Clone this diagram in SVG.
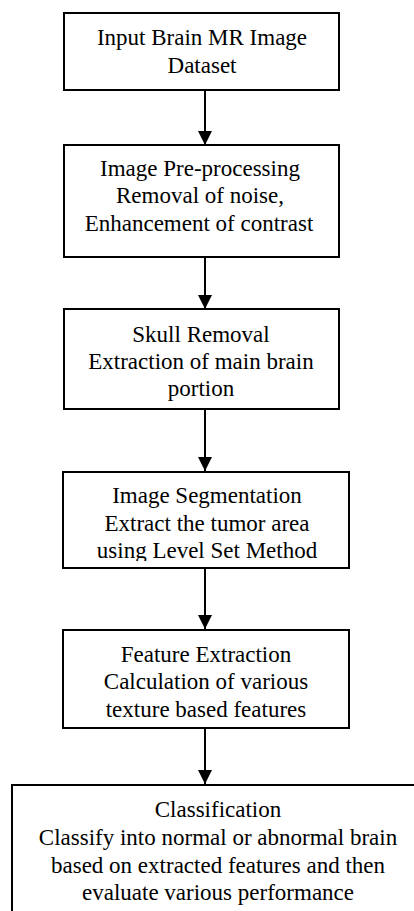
<svg xmlns="http://www.w3.org/2000/svg" width="414" height="911" viewBox="0 0 414 911">
<style>
.box{fill:#fff;stroke:#000;stroke-width:2}
.t{font-family:"Liberation Serif","Times New Roman",serif;font-size:23px;fill:#000;text-anchor:middle}
.c{stroke:#000;stroke-width:2;fill:none}
</style>
<defs>
<marker id="ah" markerWidth="14" markerHeight="15" refX="14" refY="7" orient="auto" markerUnits="userSpaceOnUse">
<path d="M0,0 L14,7 L0,14 Z" fill="#000"/>
</marker>
<clipPath id="clip4"><rect x="60" y="470" width="300" height="91"/></clipPath>
</defs>
<rect width="414" height="911" fill="#fff"/>
<g id="n1">
<rect class="box" x="64" y="13" width="275" height="77"/>
<text class="t" x="202" y="45">Input Brain MR Image</text>
<text class="t" x="202" y="73">Dataset</text>
</g>
<g id="n2">
<rect class="box" x="64" y="145" width="275" height="112"/>
<text class="t" x="200" y="176">Image Pre-processing</text>
<text class="t" x="200" y="203">Removal of noise,</text>
<text class="t" x="199" y="231">Enhancement of contrast</text>
</g>
<g id="n3">
<rect class="box" x="64" y="309" width="275" height="100"/>
<text class="t" x="201" y="342">Skull Removal</text>
<text class="t" x="201" y="369">Extraction of main brain</text>
<text class="t" x="201" y="396">portion</text>
</g>
<g id="n4">
<rect class="box" x="63" y="472" width="286" height="96"/>
<text class="t" x="207" y="503">Image Segmentation</text>
<text class="t" x="207" y="531">Extract the tumor area</text>
<text class="t" x="207" y="558" clip-path="url(#clip4)">using Level Set Method</text>
</g>
<g id="n5">
<rect class="box" x="63" y="630" width="286" height="98"/>
<text class="t" x="206" y="662">Feature Extraction</text>
<text class="t" x="206" y="689">Calculation of various</text>
<text class="t" x="206" y="717">texture based features</text>
</g>
<g id="n6">
<rect class="box" x="12" y="785" width="412" height="140"/>
<text class="t" x="218" y="817">Classification</text>
<text class="t" x="218" y="845">Classify into normal or abnormal brain</text>
<text class="t" x="218" y="873">based on extracted features and then</text>
<text class="t" x="218" y="900">evaluate various performance</text>
</g>
<g id="connectors">
<line class="c" x1="205" y1="90" x2="205" y2="145" marker-end="url(#ah)"/>
<line class="c" x1="205" y1="257" x2="205" y2="309" marker-end="url(#ah)"/>
<line class="c" x1="205" y1="409" x2="205" y2="471" marker-end="url(#ah)"/>
<line class="c" x1="205" y1="568" x2="205" y2="629" marker-end="url(#ah)"/>
<line class="c" x1="205" y1="728" x2="205" y2="784" marker-end="url(#ah)"/>
</g>
</svg>
